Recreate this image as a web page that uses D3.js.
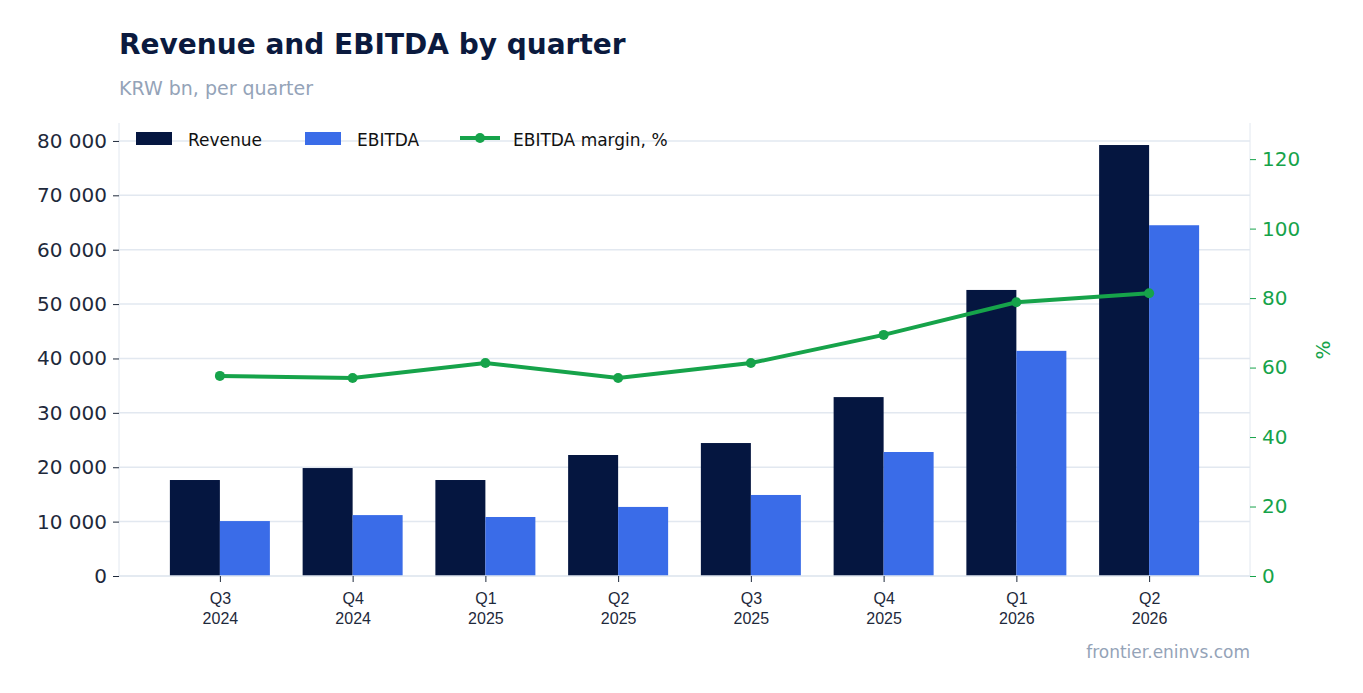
<!DOCTYPE html><html><head><meta charset="utf-8"><script src="https://cdn.jsdelivr.net/npm/d3@7"></script>
<style>body{margin:0;background:#fff;font-family:"DejaVu Sans",sans-serif}</style></head><body><svg width="1363" height="693"></svg><script>
const quarters=["Q3|2024","Q4|2024","Q1|2025","Q2|2025","Q3|2025","Q4|2025","Q1|2026","Q2|2026"];
const revenue=[17650,19850,17650,22250,24450,32900,52600,79250];
const ebitda=[10100,11200,10850,12700,14900,22800,41400,64500];
const margin=[57.6,57.0,61.3,57.0,61.3,69.4,78.8,81.4];
const leftTicks=[0,10000,20000,30000,40000,50000,60000,70000,80000];
const rightTicks=[0,20,40,60,80,100,120];
const svg=d3.select("svg");
const L=119,R=1250,T=123,B=576;
const x=d3.scalePoint().domain(quarters).range([L,R]).padding(0.76);
const y=d3.scaleLinear().domain([0,83300]).range([B,T]);
const y2=d3.scaleLinear().domain([0,130.4]).range([B,T]);
const fmt=v=>d3.format(",")(v).replace(/,/g," ");
svg.append("text").attr("x",119).attr("y",54).attr("font-size",28).attr("font-weight","bold").attr("fill","#0b1a3e").text("Revenue and EBITDA by quarter");
svg.append("text").attr("x",119).attr("y",95).attr("font-size",19).attr("fill","#94a3b8").text("KRW bn, per quarter");
svg.append("g").selectAll("line").data(leftTicks).join("line").attr("x1",L).attr("x2",R).attr("y1",d=>y(d)).attr("y2",d=>y(d)).attr("stroke","#e2e8f0").attr("stroke-width",1.5);
const gl=svg.append("g").attr("transform",`translate(${L},0)`).call(d3.axisLeft(y).tickValues(leftTicks).tickFormat(fmt).tickSize(6).tickPadding(6));
gl.selectAll("text").attr("font-size",20).attr("fill","#1e293b").attr("font-family","DejaVu Sans");
gl.selectAll(".tick line").attr("stroke","#1e293b");gl.select(".domain").attr("stroke","#e2e8f0").attr("d",`M0,${T}V${B}`);
const gr=svg.append("g").attr("transform",`translate(${R},0)`).call(d3.axisRight(y2).tickValues(rightTicks).tickSize(6).tickPadding(6));
gr.selectAll("text").attr("font-size",20).attr("fill","#16a34a").attr("font-family","DejaVu Sans");
gr.selectAll(".tick line").attr("stroke","#16a34a");gr.select(".domain").attr("stroke","#e2e8f0").attr("d",`M0,${T}V${B}`);
const bw=50;
svg.append("g").selectAll("rect").data(revenue).join("rect").attr("x",(d,i)=>x(quarters[i])-bw).attr("width",bw).attr("y",d=>y(d)).attr("height",d=>B-y(d)).attr("fill","#051640");
svg.append("g").selectAll("rect").data(ebitda).join("rect").attr("x",(d,i)=>x(quarters[i])).attr("width",bw).attr("y",d=>y(d)).attr("height",d=>B-y(d)).attr("fill","#3a6ce8");
svg.append("line").attr("x1",L).attr("x2",R).attr("y1",B).attr("y2",B).attr("stroke","#e2e8f0").attr("stroke-width",1.5);
const gx=svg.append("g").attr("transform",`translate(0,${B})`).call(d3.axisBottom(x).tickSize(6).tickFormat(()=>""));
gx.select(".domain").remove();gx.selectAll(".tick line").attr("stroke","#1e293b");
gx.selectAll(".tick").each(function(d){const t=d3.select(this).append("text").attr("fill","#1e293b").attr("font-size",16).attr("text-anchor","middle");
 d.split("|").forEach((s,k)=>t.append("tspan").attr("x",0).attr("y",28+k*20).text(s));});
const line=d3.line().x((d,i)=>x(quarters[i])).y(d=>y2(d));
svg.append("path").datum(margin).attr("d",line).attr("fill","none").attr("stroke","#16a34a").attr("stroke-width",4);
svg.append("g").selectAll("circle").data(margin).join("circle").attr("cx",(d,i)=>x(quarters[i])).attr("cy",d=>y2(d)).attr("r",5).attr("fill","#16a34a");
svg.append("text").attr("transform","translate(1330,350) rotate(-90)").attr("text-anchor","middle").attr("font-size",20).attr("fill","#16a34a").text("%");
const lg=svg.append("g").attr("font-size",17).attr("fill","#111");
lg.append("rect").attr("x",136).attr("y",132).attr("width",36).attr("height",13).attr("fill","#051640");
lg.append("text").attr("x",188).attr("y",146).text("Revenue");
lg.append("rect").attr("x",305).attr("y",132).attr("width",36).attr("height",13).attr("fill","#3a6ce8");
lg.append("text").attr("x",357).attr("y",146).text("EBITDA");
lg.append("line").attr("x1",460).attr("x2",500).attr("y1",138).attr("y2",138).attr("stroke","#16a34a").attr("stroke-width",4);
lg.append("circle").attr("cx",480).attr("cy",138).attr("r",5).attr("fill","#16a34a");
lg.append("text").attr("x",513).attr("y",146).text("EBITDA margin, %");
svg.append("text").attr("x",1250).attr("y",658).attr("text-anchor","end").attr("font-size",17).attr("fill","#94a3b8").text("frontier.eninvs.com");
</script></body></html>
